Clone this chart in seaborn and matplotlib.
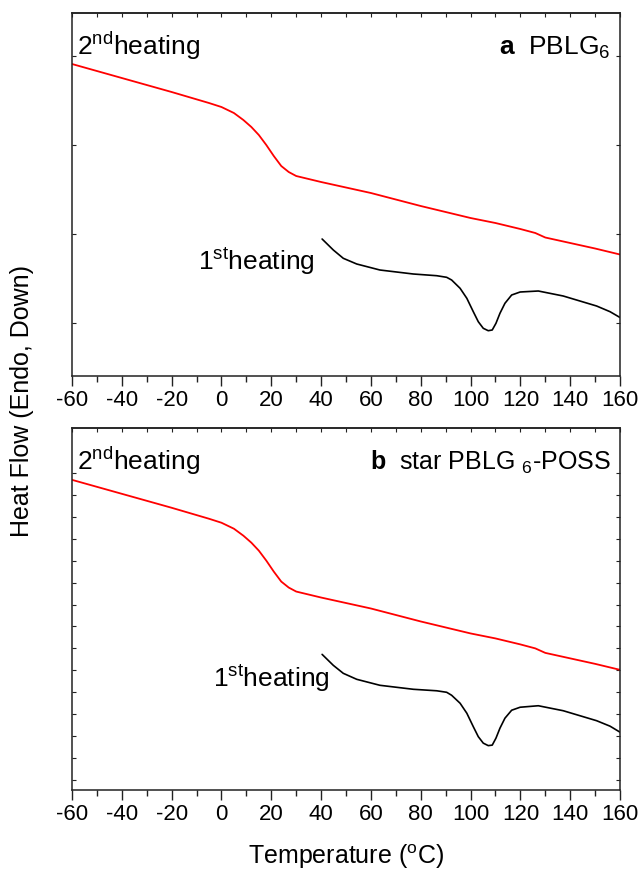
import numpy as np
import pandas as pd
import matplotlib
matplotlib.use("Agg")
import matplotlib.pyplot as plt
from matplotlib.ticker import MultipleLocator
from matplotlib import font_manager
import seaborn as sns

# ---------------- data (arbitrary heat-flow units) -------------
# panel a : PBLG6
a_2nd_T  = [-60, -40, -20, -5, 0, 5, 8.8, 12, 15, 18, 21, 24, 27, 30, 35, 40, 60, 80, 100, 110, 120, 126, 130, 140, 150, 160]
a_2nd_HF = [31.2, 29.8, 28.4, 27.3, 26.9, 26.3, 25.6, 24.9, 24.1, 23.1, 22.0, 21.0, 20.4, 20.0, 19.7, 19.4,
            18.3, 17.0, 15.8, 15.3, 14.7, 14.3, 13.85, 13.3, 12.75, 12.15]

a_1st_T  = [40.4, 44.9, 48.9, 54.3, 63.6, 77.0, 86.4, 90.4, 92.4, 95.8, 98.5, 101.1, 103.1, 105.1, 107.1,
            108.7, 110.2, 111.8, 113.8, 116.5, 119.9, 127.2, 137.2, 150.6, 156.0, 160.0]
a_1st_HF = [13.7, 12.6, 11.77, 11.2, 10.6, 10.2, 10.03, 9.87, 9.6, 8.77, 7.77, 6.43, 5.43, 4.77, 4.53,
            4.6, 5.27, 6.27, 7.27, 8.1, 8.4, 8.5, 8.0, 7.0, 6.43, 5.85]

# panel b : star PBLG6-POSS
b_2nd_T  = [-60, -40, -20, -5, 0, 5, 8.8, 12, 15, 18, 21, 24, 27, 30, 35, 40, 60, 80, 100, 110, 120, 126, 130, 140, 150, 160]
b_2nd_HF = [31.1, 29.7, 28.3, 27.2, 26.8, 26.2, 25.5, 24.8, 24.0, 23.0, 21.9, 20.9, 20.3, 19.9, 19.6, 19.3,
            18.2, 16.9, 15.7, 15.2, 14.6, 14.2, 13.75, 13.2, 12.65, 12.05]

b_1st_T  = [40.4, 44.9, 48.9, 54.3, 63.6, 77.0, 86.4, 90.4, 92.4, 95.8, 98.5, 101.1, 103.1, 105.1, 107.1,
            108.7, 110.2, 111.8, 113.8, 116.5, 119.9, 127.2, 137.2, 150.6, 156.0, 160.0]
b_1st_HF = [13.6, 12.5, 11.7, 11.1, 10.5, 10.1, 9.95, 9.8, 9.5, 8.7, 7.7, 6.35, 5.35, 4.7, 4.45,
            4.5, 5.2, 6.2, 7.2, 8.0, 8.3, 8.45, 7.95, 6.95, 6.4, 5.8]

x_ticks = [-60, -40, -20, 0, 20, 40, 60, 80, 100, 120, 140, 160]
a_yticks = [5.3, 14.2, 23.1, 32.0]
b_yticks = [1.0 + 2.2 * i for i in range(15)]

# ---------------- style -----------------
sns.set_theme(style="ticks")
names = {f.name for f in font_manager.fontManager.ttflist}
narrow = "Liberation Sans Narrow" if "Liberation Sans Narrow" in names else "Liberation Sans"
plt.rcParams["font.family"] = [narrow, "Liberation Sans", "DejaVu Sans"]
plt.rcParams["mathtext.fontset"] = "custom"
plt.rcParams["mathtext.rm"] = narrow
plt.rcParams["mathtext.it"] = narrow + ":italic"
plt.rcParams["mathtext.bf"] = narrow + ":bold"
plt.rcParams["axes.edgecolor"] = "#222222"
plt.rcParams["axes.linewidth"] = 1.1
plt.rcParams["axes.unicode_minus"] = False
plt.rcParams["text.color"] = "black"
plt.rcParams["xtick.labelcolor"] = "black"

fig = plt.figure(figsize=(6.38, 8.74), dpi=100)
ax_a = fig.add_axes([0.1129, 0.5698, 0.8589, 0.4153])
ax_b = fig.add_axes([0.1129, 0.0961, 0.8589, 0.4142])


def style_axes(ax, yticks):
    ax.set_xlim(-60, 160)
    ax.set_ylim(0, 36.3)
    ax.set_xticks(x_ticks)
    ax.xaxis.set_minor_locator(MultipleLocator(10))
    ax.tick_params(axis="x", which="major", direction="out", length=7, width=1.0,
                   labelsize=16, pad=3, colors="#222222", labelcolor="black")
    ax.tick_params(axis="x", which="minor", direction="out", length=4, width=1.0, colors="#222222")
    ax.set_yticks(yticks)
    ax.tick_params(axis="y", which="both", direction="in", length=3, width=0.8,
                   left=True, right=True, labelleft=False, colors="#222222")
    sec = ax.secondary_xaxis("top")
    sec.set_xticks(x_ticks)
    sec.xaxis.set_minor_locator(MultipleLocator(10))
    sec.tick_params(axis="x", which="both", direction="in", length=3, width=0.8,
                    labeltop=False, colors="#222222")
    ax.set_xlabel("")
    ax.set_ylabel("")


for ax, t2, h2, t1, h1, yt in [
    (ax_a, a_2nd_T, a_2nd_HF, a_1st_T, a_1st_HF, a_yticks),
    (ax_b, b_2nd_T, b_2nd_HF, b_1st_T, b_1st_HF, b_yticks),
]:
    d2 = pd.DataFrame({"T": t2, "HF": h2})
    d1 = pd.DataFrame({"T": t1, "HF": h1})
    sns.lineplot(data=d2, x="T", y="HF", ax=ax, color="#ff0000", linewidth=1.3,
                 estimator=None, sort=False)
    sns.lineplot(data=d1, x="T", y="HF", ax=ax, color="black", linewidth=1.2,
                 estimator=None, sort=False)
    style_axes(ax, yt)

# annotations
ax_a.text(0.009, 0.885, r"2$^{\mathrm{nd}}$heating", transform=ax_a.transAxes,
          fontsize=19, ha="left", va="baseline")
ax_a.text(0.983, 0.885, r"$\mathbf{a}$  PBLG$_{\mathrm{6}}$", transform=ax_a.transAxes,
          fontsize=19, ha="right", va="baseline")
ax_a.text(0.229, 0.293, r"1$^{\mathrm{st}}$heating", transform=ax_a.transAxes,
          fontsize=19, ha="left", va="baseline")

ax_b.text(0.009, 0.885, r"2$^{\mathrm{nd}}$heating", transform=ax_b.transAxes,
          fontsize=19, ha="left", va="baseline")
ax_b.text(0.983, 0.885, r"$\mathbf{b}$  star PBLG $_{\mathrm{6}}$-POSS", transform=ax_b.transAxes,
          fontsize=18, ha="right", va="baseline")
ax_b.text(0.258, 0.285, r"1$^{\mathrm{st}}$heating", transform=ax_b.transAxes,
          fontsize=19, ha="left", va="baseline")

fig.text(0.5425, 1 - 857 / 874, r"Temperature ($^{\mathrm{o}}$C)", ha="center", va="center",
         fontsize=18)
fig.text(22 / 638, 1 - 401 / 874, "Heat Flow (Endo, Down)", ha="center", va="center",
         rotation=90, fontsize=18, family=["Liberation Sans", "DejaVu Sans"])

fig.savefig("out.png", dpi=100)
